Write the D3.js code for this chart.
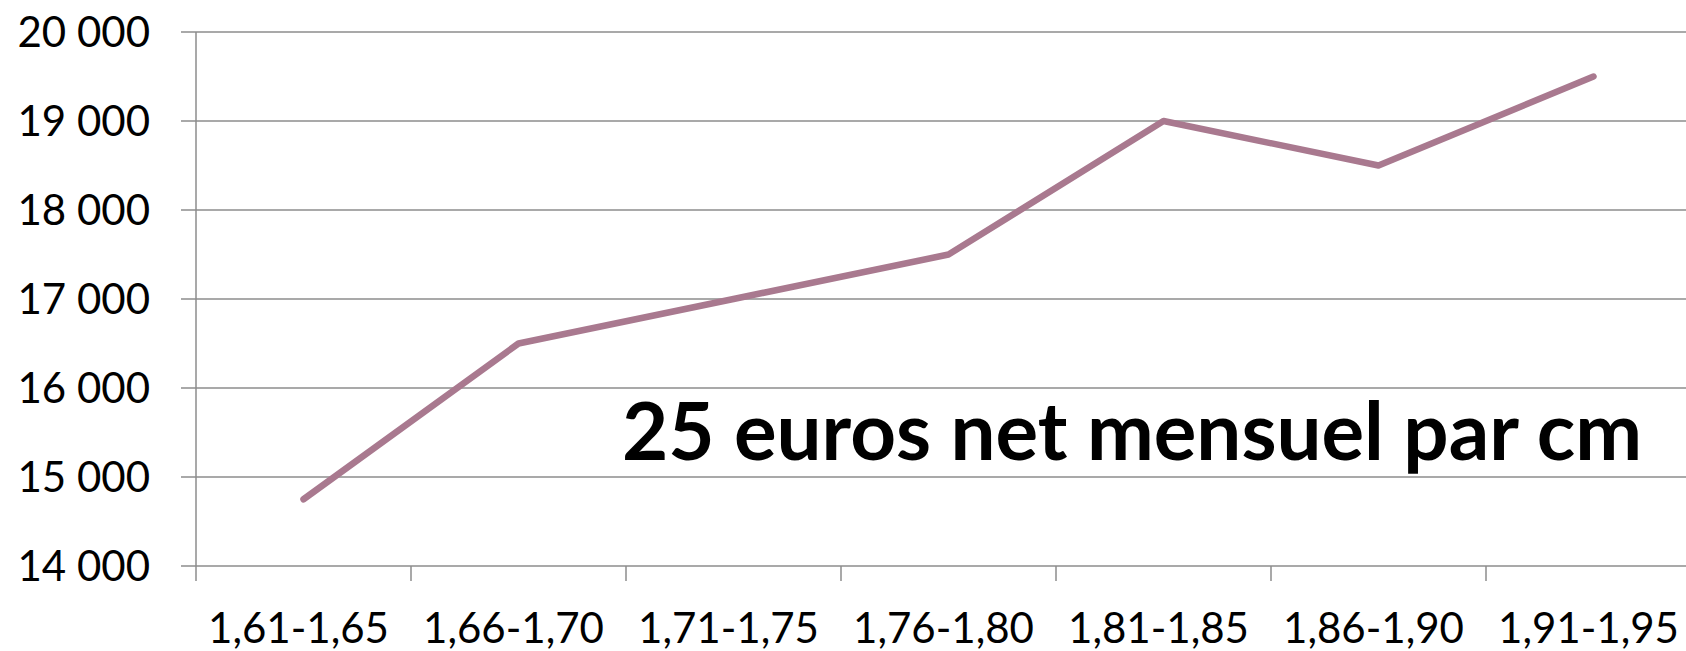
<!DOCTYPE html>
<html>
<head>
<meta charset="utf-8">
<script src="https://cdn.jsdelivr.net/npm/d3@7"></script>
<style>
  body { margin: 0; background: #fff; }
  text { font-family: Lato, "Open Sans", sans-serif; fill: #000; }
</style>
</head>
<body>
<script>
// chart data
var categories = ["1,61-1,65", "1,66-1,70", "1,71-1,75", "1,76-1,80", "1,81-1,85", "1,86-1,90", "1,91-1,95"];
var salaries = [14750, 16500, 17000, 17500, 19000, 18500, 19500];
var yTicks = [14000, 15000, 16000, 17000, 18000, 19000, 20000];
var note = "25 euros net mensuel par cm";

var width = 1686, height = 651;
var plotLeft = 196, plotTop = 32, plotBottom = 566;
var band = 215;

var svg = d3.select("body").append("svg")
    .attr("width", width)
    .attr("height", height);

var x = d3.scaleBand()
    .domain(categories)
    .range([plotLeft, plotLeft + band * categories.length]);

var y = d3.scaleLinear()
    .domain([14000, 20000])
    .range([plotBottom, plotTop]);

// horizontal gridlines
svg.append("g")
  .selectAll("line")
  .data(yTicks)
  .enter().append("line")
    .attr("x1", plotLeft - 15)
    .attr("x2", width)
    .attr("y1", function(d) { return y(d); })
    .attr("y2", function(d) { return y(d); })
    .style("stroke", "#8c8c8c")
    .style("stroke-width", 1.5);

// y axis line
svg.append("line")
    .attr("x1", plotLeft).attr("x2", plotLeft)
    .attr("y1", plotTop).attr("y2", plotBottom + 15)
    .style("stroke", "#8c8c8c")
    .style("stroke-width", 1.5);

// y labels
var fmt = function(d) { return d3.format(",")(d).replace(",", " "); };
svg.append("g")
  .selectAll("text")
  .data(yTicks)
  .enter().append("text")
    .attr("x", 150)
    .attr("y", function(d) { return y(d); })
    .attr("dy", "0.36em")
    .attr("text-anchor", "end")
    .style("font-size", "42px")
    .text(fmt);

// category ticks (between categories)
svg.append("g")
  .selectAll("line")
  .data(categories.slice(1))
  .enter().append("line")
    .attr("x1", function(d) { return x(d); })
    .attr("x2", function(d) { return x(d); })
    .attr("y1", plotBottom)
    .attr("y2", plotBottom + 15)
    .style("stroke", "#8c8c8c")
    .style("stroke-width", 1.5);

// x labels
svg.append("g")
  .selectAll("text")
  .data(categories)
  .enter().append("text")
    .attr("x", function(d) { return x(d) + x.bandwidth() / 2 - 5; })
    .attr("y", 643)
    .attr("text-anchor", "middle")
    .style("font-size", "42px")
    .text(function(d) { return d; });

// line
var line = d3.line()
    .x(function(d, i) { return x(categories[i]) + x.bandwidth() / 2; })
    .y(function(d) { return y(d); });

svg.append("path")
    .datum(salaries)
    .attr("d", line)
    .style("fill", "none")
    .style("stroke", "#a9798f")
    .style("stroke-width", 6.5)
    .style("stroke-linecap", "round")
    .style("stroke-linejoin", "round");

// annotation
svg.append("text")
    .attr("x", 622)
    .attr("y", 460)
    .attr("textLength", 1020)
    .attr("lengthAdjust", "spacingAndGlyphs")
    .style("font-size", "80px")
    .style("font-weight", "bold")
    .text(note);
</script>
</body>
</html>
